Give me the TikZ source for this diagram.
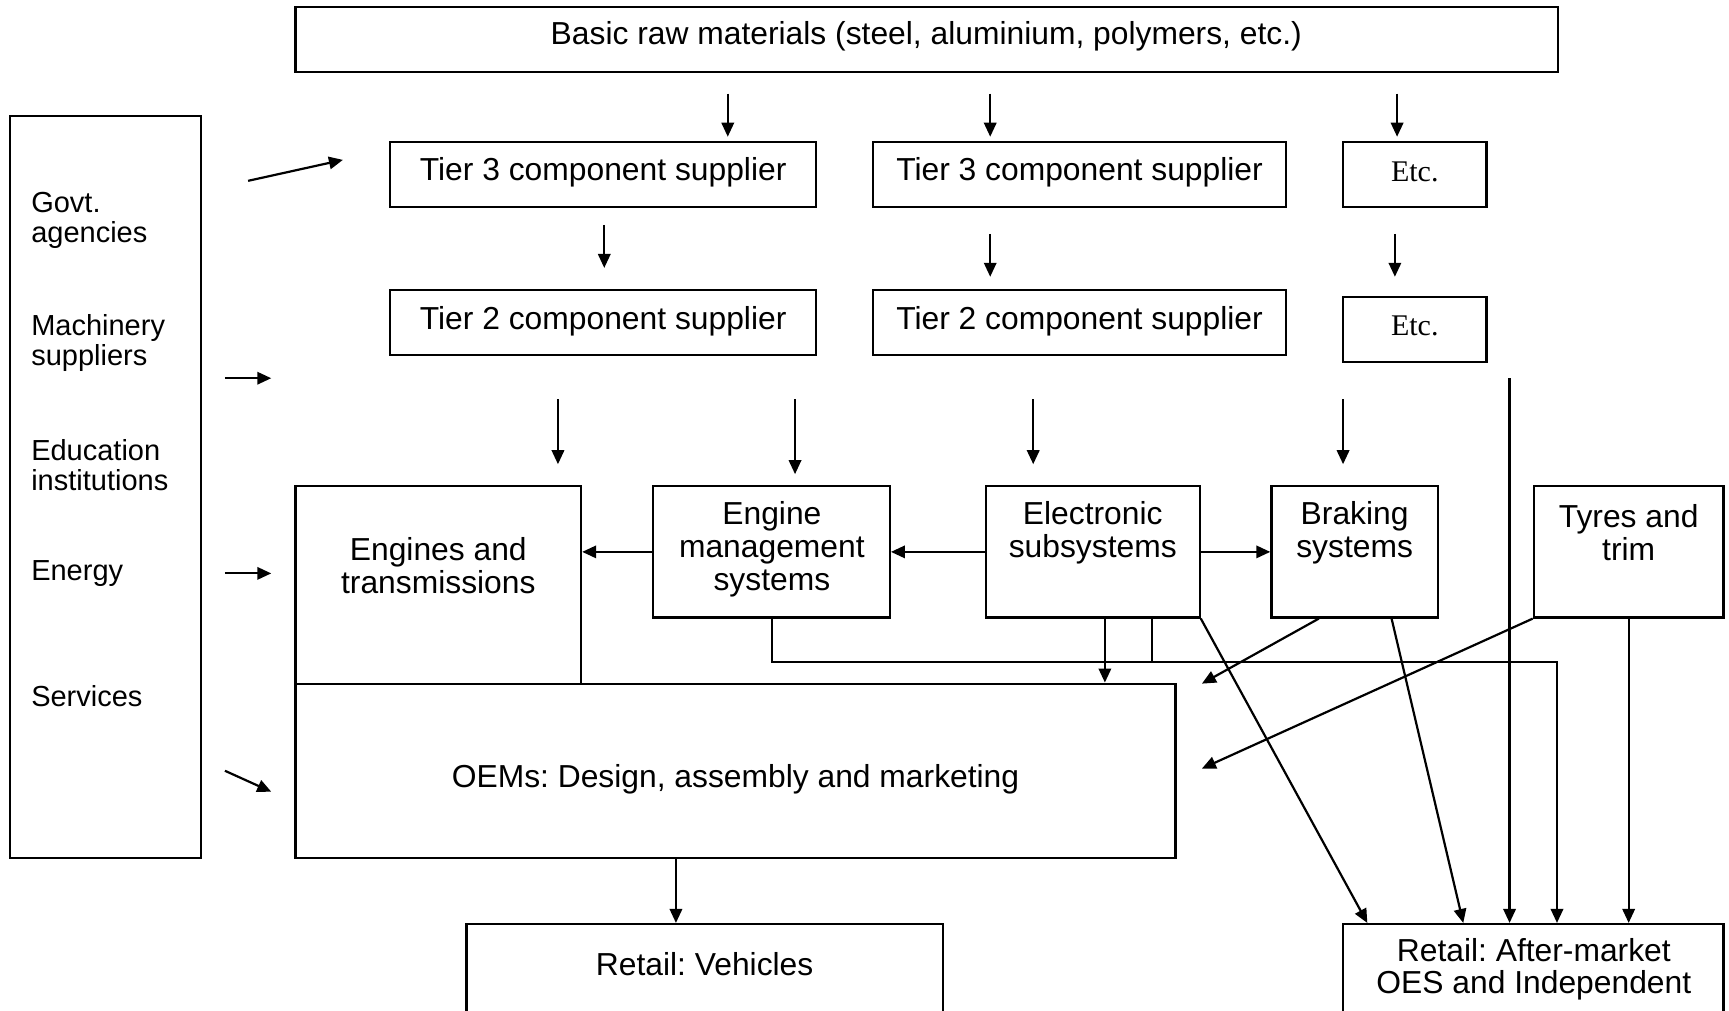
\documentclass[tikz,border=0pt]{standalone}
\usepackage{fontspec}
\setmainfont{Liberation Sans}
\newfontfamily\timesf{Liberation Serif}
\usetikzlibrary{arrows.meta,calc,fit}
\begin{document}
\frenchspacing
\begin{tikzpicture}[x=0.5513pt,y=-0.5513pt,
  box/.style={draw, line width=1.1pt, inner sep=0pt},
  txt/.style={inner sep=0pt, align=center, font=\fontsize{15.9}{16.4}\selectfont},
  etct/.style={inner sep=0pt, font=\timesf\fontsize{15}{16}\selectfont},
  ltxt/.style={inner sep=0pt, align=left, anchor=west, font=\fontsize{14.5}{15.3}\selectfont},
  arr/.style={line width=1.1pt, -{Triangle[length=7pt,width=6.2pt]}},
  ln/.style={line width=1.1pt}]
\useasboundingbox (0,0) rectangle (1568,916);
\clip (0,0) rectangle (1568,916);
% boxes
\node (raw) [box, fit={(268,6) (1413,65)}] {};
\node (left) [box, fit={(9,105) (182,778)}] {};
\node (t3a) [box, fit={(354,129) (740,188)}] {};
\node (t3b) [box, fit={(792,129) (1166,188)}] {};
\node (e1) [box, fit={(1218,129) (1348,188)}] {};
\node (t2a) [box, fit={(354,263) (740,322)}] {};
\node (t2b) [box, fit={(792,263) (1166,322)}] {};
\node (e2) [box, fit={(1218,269) (1348,328)}] {};
\node (eng) [box, fit={(268,441) (527,620)}] {};
\node (emg) [box, fit={(592,441) (807,560)}] {};
\node (elec) [box, fit={(894,441) (1088,560)}] {};
\node (brak) [box, fit={(1153,441) (1304,560)}] {};
\node (tyre) [box, fit={(1391,441) (1563,560)}] {};
\node (oem) [box, fit={(268,620) (1066,778)}] {};
\node (rv) [box, fit={(423,838) (855,960)}] {};
\node (aft) [box, fit={(1218,838) (1563,960)}] {};
% texts
\node (rawt) [txt] at (840,33) {Basic raw materials (steel, aluminium, polymers, etc.)};
\node (t3at) [txt] at (547,156) {Tier 3 component supplier};
\node (t3bt) [txt] at (979,156) {Tier 3 component supplier};
\node (e1t) [etct] at (1283,156) {Etc.};
\node (t2at) [txt] at (547,291) {Tier 2 component supplier};
\node (t2bt) [txt] at (979,291) {Tier 2 component supplier};
\node (e2t) [etct] at (1283,296) {Etc.};
\node (engt) [txt] at (397.5,513) {Engines and\\transmissions};
\node (emgt) [txt] at (700,498) {Engine\\management\\systems};
\node (elect) [txt] at (991,483) {Electronic\\subsystems};
\node (brakt) [txt] at (1228.5,483) {Braking\\systems};
\node (tyret) [txt] at (1477,483) {Tyres and\\trim};
\node (oemt) [txt] at (667,707) {OEMs: Design, assembly and marketing};
\node (rvt) [txt] at (639,874) {Retail: Vehicles};
\node (aftt) [txt] at (1391,879) {Retail: After-market\\OES and Independent};
\node (l1) [ltxt] at (28,200) {Govt.\\agencies};
\node (l2) [ltxt] at (28,311) {Machinery\\suppliers};
\node (l3) [ltxt] at (28,422) {Education\\institutions};
\node (l4) [ltxt] at (28,520) {Energy};
\node (l5) [ltxt] at (28,631) {Services};
% left arrows
\draw[arr] (225,164) -- (311,145);
\draw[arr] (204,343) -- (246,343);
\draw[arr] (204,520) -- (246,520);
\draw[arr] (204,699) -- (246,718);
% raw -> tier 3
\draw[arr] (660,85) -- (660,124);
\draw[arr] (898,85) -- (898,124);
\draw[arr] (1267,85) -- (1267,124);
% tier 3 -> tier 2
\draw[arr] (548,204) -- (548,243);
\draw[arr] (898,212) -- (898,251);
\draw[arr] (1265,212) -- (1265,251);
% tier 2 -> systems
\draw[arr] (506,362) -- (506,421);
\draw[arr] (721,362) -- (721,430);
\draw[arr] (937,362) -- (937,421);
\draw[arr] (1218,362) -- (1218,421);
\draw[arr] (1369,343) -- (1369,0 |- aft.north);
% between systems
\draw[arr] (elec.west) -- (emg.east);
\draw[arr] (emg.west) -- (emg.west -| eng.east);
\draw[arr] (elec.east) -- (brak.west);
% to OEM / aftermarket
\coordinate (hl) at (700,600);
\draw[arr] (700,0 |- emg.south) -- (hl) -| (1412,0 |- aft.north);
\draw[arr] (1002,0 |- elec.south) -- (1002,0 |- oem.north);
\draw[ln] (1045,0 |- elec.south) -- (1045,0 |- hl);
\draw[arr] (elec.south east) -- (1240,0 |- aft.north);
\draw[arr] (1196,0 |- brak.south) -- (1090,620);
\draw[arr] (1262,0 |- brak.south) -- (1327,0 |- aft.north);
\draw[arr] (tyre.south west) -- (1090,697);
\draw[arr] (tyre.south) -- (tyre.south |- aft.north);
\draw[arr] (613,0 |- oem.south) -- (613,0 |- rv.north);
\end{tikzpicture}
\end{document}
